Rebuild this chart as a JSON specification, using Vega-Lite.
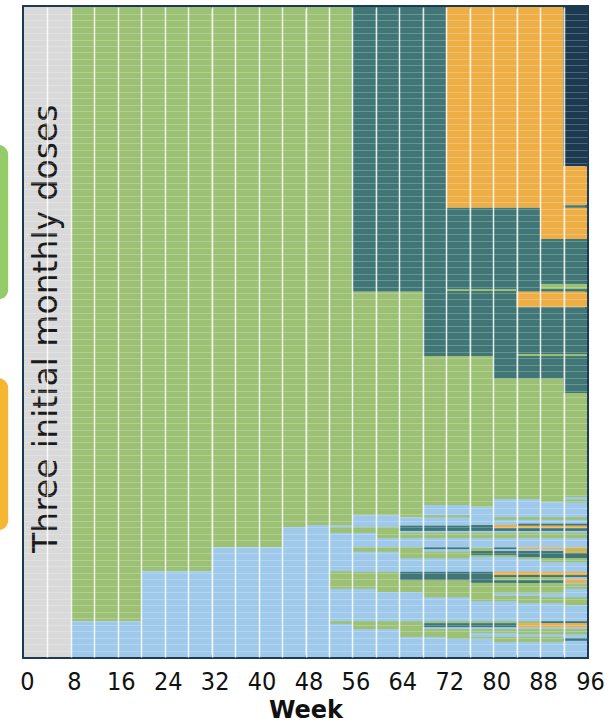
{
  "$schema": "https://vega.github.io/schema/vega-lite/v6.json",
  "width": 563,
  "height": 650,
  "autosize": "none",
  "padding": {"left": 24, "top": 7, "right": 29, "bottom": 71},
  "background": "white",
  "config": {"view": {"stroke": "#1b3a55", "strokeWidth": 4}},
  "datasets": {
    "cells": [
      {"w":0,"w2":8,"y":0,"y2":100,"c":"Loading"},
      {"w":8,"w2":20,"y":5.5,"y2":100,"c":"Q12W"},{"w":8,"w2":20,"y":0,"y2":5.5,"c":"Q8W"},
      {"w":20,"w2":32,"y":13.2,"y2":100,"c":"Q12W"},{"w":20,"w2":32,"y":0,"y2":13.2,"c":"Q8W"},
      {"w":32,"w2":44,"y":16.9,"y2":100,"c":"Q12W"},{"w":32,"w2":44,"y":0,"y2":16.9,"c":"Q8W"},
      {"w":44,"w2":48,"y":20.0,"y2":100,"c":"Q12W"},{"w":44,"w2":48,"y":0,"y2":20.0,"c":"Q8W"},
      {"w":48,"w2":52,"y":20.3,"y2":100,"c":"Q12W"},{"w":48,"w2":52,"y":0,"y2":20.3,"c":"Q8W"},
      {"w":52,"w2":56,"y":20.3,"y2":100,"c":"Q12W"},{"w":52,"w2":56,"y":0,"y2":20.3,"c":"Q8W"},
      {"w":52,"w2":56,"y":19.1,"y2":20.0,"c":"Q12W"},{"w":52,"w2":56,"y":10.5,"y2":13.2,"c":"Q12W"},{"w":52,"w2":56,"y":5.1,"y2":5.5,"c":"Q12W"},

      {"w":56,"w2":60,"y":56.2,"y2":100,"c":"Q16W"},{"w":56,"w2":60,"y":21.8,"y2":56.2,"c":"Q12W"},{"w":56,"w2":60,"y":0,"y2":21.8,"c":"Q8W"},
      {"w":56,"w2":60,"y":19.1,"y2":20.0,"c":"Q12W"},{"w":56,"w2":60,"y":16.2,"y2":16.9,"c":"Q12W"},{"w":56,"w2":60,"y":10.5,"y2":13.1,"c":"Q12W"},{"w":56,"w2":60,"y":4.3,"y2":5.5,"c":"Q12W"},

      {"w":60,"w2":64,"y":56.2,"y2":100,"c":"Q16W"},{"w":60,"w2":64,"y":21.8,"y2":56.2,"c":"Q12W"},{"w":60,"w2":64,"y":0,"y2":21.8,"c":"Q8W"},
      {"w":60,"w2":64,"y":18.3,"y2":20.0,"c":"Q12W"},{"w":60,"w2":64,"y":16.2,"y2":16.9,"c":"Q12W"},{"w":60,"w2":64,"y":10.0,"y2":13.1,"c":"Q12W"},{"w":60,"w2":64,"y":4.3,"y2":5.5,"c":"Q12W"},

      {"w":64,"w2":68,"y":56.2,"y2":100,"c":"Q16W"},{"w":64,"w2":68,"y":21.5,"y2":56.2,"c":"Q12W"},{"w":64,"w2":68,"y":0,"y2":21.5,"c":"Q8W"},
      {"w":64,"w2":68,"y":19.4,"y2":20.2,"c":"Q16W"},{"w":64,"w2":68,"y":18.3,"y2":19.1,"c":"Q12W"},{"w":64,"w2":68,"y":15.2,"y2":16.9,"c":"Q12W"},{"w":64,"w2":68,"y":11.8,"y2":13.1,"c":"Q16W"},{"w":64,"w2":68,"y":10.0,"y2":11.8,"c":"Q12W"},{"w":64,"w2":68,"y":3.1,"y2":5.5,"c":"Q12W"},

      {"w":68,"w2":72,"y":46.3,"y2":100,"c":"Q16W"},{"w":68,"w2":72,"y":23.4,"y2":46.3,"c":"Q12W"},{"w":68,"w2":72,"y":0,"y2":23.4,"c":"Q8W"},
      {"w":68,"w2":72,"y":21.5,"y2":21.8,"c":"Q12W"},{"w":68,"w2":72,"y":19.4,"y2":20.2,"c":"Q16W"},{"w":68,"w2":72,"y":18.3,"y2":19.1,"c":"Q12W"},{"w":68,"w2":72,"y":16.6,"y2":16.9,"c":"Q16W"},{"w":68,"w2":72,"y":15.2,"y2":16.2,"c":"Q12W"},{"w":68,"w2":72,"y":11.8,"y2":13.1,"c":"Q16W"},{"w":68,"w2":72,"y":9.2,"y2":11.8,"c":"Q12W"},{"w":68,"w2":72,"y":5.2,"y2":5.5,"c":"Q12W"},{"w":68,"w2":72,"y":4.6,"y2":5.2,"c":"Q16W"},{"w":68,"w2":72,"y":3.1,"y2":4.3,"c":"Q12W"},

      {"w":72,"w2":76,"y":69.1,"y2":100,"c":"Q20W"},{"w":72,"w2":76,"y":46.3,"y2":69.1,"c":"Q16W"},{"w":72,"w2":76,"y":56.3,"y2":56.6,"c":"Q12W"},{"w":72,"w2":76,"y":23.4,"y2":46.3,"c":"Q12W"},{"w":72,"w2":76,"y":0,"y2":23.4,"c":"Q8W"},
      {"w":72,"w2":76,"y":21.5,"y2":21.8,"c":"Q12W"},{"w":72,"w2":76,"y":19.4,"y2":20.2,"c":"Q16W"},{"w":72,"w2":76,"y":18.3,"y2":19.1,"c":"Q12W"},{"w":72,"w2":76,"y":16.6,"y2":16.9,"c":"Q16W"},{"w":72,"w2":76,"y":15.2,"y2":16.2,"c":"Q12W"},{"w":72,"w2":76,"y":11.8,"y2":13.1,"c":"Q16W"},{"w":72,"w2":76,"y":9.2,"y2":11.8,"c":"Q12W"},{"w":72,"w2":76,"y":5.2,"y2":5.5,"c":"Q12W"},{"w":72,"w2":76,"y":4.6,"y2":5.2,"c":"Q16W"},{"w":72,"w2":76,"y":2.8,"y2":4.3,"c":"Q12W"},

      {"w":76,"w2":80,"y":69.1,"y2":100,"c":"Q20W"},{"w":76,"w2":80,"y":46.3,"y2":69.1,"c":"Q16W"},{"w":76,"w2":80,"y":56.3,"y2":56.6,"c":"Q12W"},{"w":76,"w2":80,"y":23.1,"y2":46.3,"c":"Q12W"},{"w":76,"w2":80,"y":0,"y2":23.1,"c":"Q8W"},
      {"w":76,"w2":80,"y":19.4,"y2":20.3,"c":"Q16W"},{"w":76,"w2":80,"y":18.3,"y2":19.1,"c":"Q12W"},{"w":76,"w2":80,"y":16.3,"y2":16.8,"c":"Q12W"},{"w":76,"w2":80,"y":15.7,"y2":16.3,"c":"Q16W"},{"w":76,"w2":80,"y":15.4,"y2":15.7,"c":"Q12W"},{"w":76,"w2":80,"y":11.4,"y2":13.1,"c":"Q16W"},{"w":76,"w2":80,"y":8.6,"y2":11.4,"c":"Q12W"},{"w":76,"w2":80,"y":5.2,"y2":5.5,"c":"Q12W"},{"w":76,"w2":80,"y":4.6,"y2":5.2,"c":"Q16W"},{"w":76,"w2":80,"y":3.7,"y2":4.3,"c":"Q12W"},{"w":76,"w2":80,"y":2.8,"y2":3.1,"c":"Q12W"},

      {"w":80,"w2":84,"y":69.1,"y2":100,"c":"Q20W"},{"w":80,"w2":84,"y":42.8,"y2":69.1,"c":"Q16W"},{"w":80,"w2":84,"y":56.3,"y2":56.6,"c":"Q12W"},{"w":80,"w2":84,"y":24.3,"y2":42.8,"c":"Q12W"},{"w":80,"w2":84,"y":0,"y2":24.3,"c":"Q8W"},
      {"w":80,"w2":84,"y":21.1,"y2":21.5,"c":"Q12W"},{"w":80,"w2":84,"y":19.8,"y2":20.3,"c":"Q20W"},{"w":80,"w2":84,"y":19.4,"y2":19.8,"c":"Q16W"},{"w":80,"w2":84,"y":18.3,"y2":19.1,"c":"Q12W"},{"w":80,"w2":84,"y":16.6,"y2":16.9,"c":"Q16W"},{"w":80,"w2":84,"y":15.7,"y2":16.3,"c":"Q16W"},{"w":80,"w2":84,"y":15.4,"y2":15.7,"c":"Q12W"},{"w":80,"w2":84,"y":12.6,"y2":13.1,"c":"Q20W"},{"w":80,"w2":84,"y":12.3,"y2":12.6,"c":"Q16W"},{"w":80,"w2":84,"y":11.8,"y2":12.3,"c":"Q12W"},{"w":80,"w2":84,"y":11.4,"y2":11.8,"c":"Q16W"},{"w":80,"w2":84,"y":9.8,"y2":11.4,"c":"Q12W"},{"w":80,"w2":84,"y":8.6,"y2":9.4,"c":"Q12W"},{"w":80,"w2":84,"y":5.2,"y2":5.5,"c":"Q12W"},{"w":80,"w2":84,"y":4.6,"y2":5.2,"c":"Q16W"},{"w":80,"w2":84,"y":3.7,"y2":4.3,"c":"Q12W"},{"w":80,"w2":84,"y":2.3,"y2":3.1,"c":"Q12W"},

      {"w":84,"w2":88,"y":69.1,"y2":100,"c":"Q20W"},{"w":84,"w2":88,"y":56.2,"y2":69.1,"c":"Q16W"},{"w":84,"w2":88,"y":53.8,"y2":56.2,"c":"Q20W"},{"w":84,"w2":88,"y":42.8,"y2":53.8,"c":"Q16W"},{"w":84,"w2":88,"y":46.3,"y2":46.6,"c":"Q12W"},{"w":84,"w2":88,"y":24.3,"y2":42.8,"c":"Q12W"},{"w":84,"w2":88,"y":0,"y2":24.3,"c":"Q8W"},
      {"w":84,"w2":88,"y":21.1,"y2":21.5,"c":"Q12W"},{"w":84,"w2":88,"y":20.2,"y2":20.5,"c":"Q16W"},{"w":84,"w2":88,"y":19.8,"y2":20.2,"c":"Q20W"},{"w":84,"w2":88,"y":19.4,"y2":19.8,"c":"Q16W"},{"w":84,"w2":88,"y":18.3,"y2":19.1,"c":"Q12W"},{"w":84,"w2":88,"y":16.6,"y2":16.9,"c":"Q20W"},{"w":84,"w2":88,"y":15.4,"y2":16.3,"c":"Q16W"},{"w":84,"w2":88,"y":15.1,"y2":15.4,"c":"Q12W"},{"w":84,"w2":88,"y":12.6,"y2":13.1,"c":"Q20W"},{"w":84,"w2":88,"y":12.3,"y2":12.6,"c":"Q16W"},{"w":84,"w2":88,"y":11.8,"y2":12.3,"c":"Q12W"},{"w":84,"w2":88,"y":11.4,"y2":11.8,"c":"Q16W"},{"w":84,"w2":88,"y":9.8,"y2":11.4,"c":"Q12W"},{"w":84,"w2":88,"y":8.3,"y2":9.4,"c":"Q12W"},{"w":84,"w2":88,"y":5.2,"y2":5.5,"c":"Q12W"},{"w":84,"w2":88,"y":4.6,"y2":5.2,"c":"Q20W"},{"w":84,"w2":88,"y":3.5,"y2":4.3,"c":"Q12W"},{"w":84,"w2":88,"y":2.3,"y2":3.1,"c":"Q12W"},

      {"w":88,"w2":92,"y":64.3,"y2":100,"c":"Q20W"},{"w":88,"w2":92,"y":56.2,"y2":64.3,"c":"Q16W"},{"w":88,"w2":92,"y":56.6,"y2":57.4,"c":"Q12W"},{"w":88,"w2":92,"y":53.8,"y2":56.2,"c":"Q20W"},{"w":88,"w2":92,"y":42.8,"y2":53.8,"c":"Q16W"},{"w":88,"w2":92,"y":46.3,"y2":46.6,"c":"Q12W"},{"w":88,"w2":92,"y":23.8,"y2":42.8,"c":"Q12W"},{"w":88,"w2":92,"y":0,"y2":23.8,"c":"Q8W"},
      {"w":88,"w2":92,"y":21.1,"y2":21.5,"c":"Q12W"},{"w":88,"w2":92,"y":20.2,"y2":20.5,"c":"Q16W"},{"w":88,"w2":92,"y":19.8,"y2":20.2,"c":"Q20W"},{"w":88,"w2":92,"y":19.4,"y2":19.8,"c":"Q16W"},{"w":88,"w2":92,"y":18.3,"y2":19.1,"c":"Q12W"},{"w":88,"w2":92,"y":16.6,"y2":16.9,"c":"Q20W"},{"w":88,"w2":92,"y":15.2,"y2":16.3,"c":"Q16W"},{"w":88,"w2":92,"y":14.6,"y2":15.2,"c":"Q12W"},{"w":88,"w2":92,"y":12.6,"y2":13.1,"c":"Q20W"},{"w":88,"w2":92,"y":12.3,"y2":12.6,"c":"Q16W"},{"w":88,"w2":92,"y":11.8,"y2":12.3,"c":"Q12W"},{"w":88,"w2":92,"y":11.4,"y2":11.8,"c":"Q16W"},{"w":88,"w2":92,"y":9.8,"y2":11.4,"c":"Q12W"},{"w":88,"w2":92,"y":8.3,"y2":9.2,"c":"Q12W"},{"w":88,"w2":92,"y":5.2,"y2":5.5,"c":"Q16W"},{"w":88,"w2":92,"y":4.6,"y2":5.2,"c":"Q20W"},{"w":88,"w2":92,"y":3.5,"y2":4.3,"c":"Q12W"},{"w":88,"w2":92,"y":2.3,"y2":3.1,"c":"Q12W"},

      {"w":92,"w2":96,"y":75.5,"y2":100,"c":"Q24W"},{"w":92,"w2":96,"y":69.5,"y2":75.5,"c":"Q20W"},{"w":92,"w2":96,"y":69.1,"y2":69.5,"c":"Q16W"},{"w":92,"w2":96,"y":64.3,"y2":69.1,"c":"Q20W"},{"w":92,"w2":96,"y":56.2,"y2":64.3,"c":"Q16W"},{"w":92,"w2":96,"y":56.6,"y2":57.4,"c":"Q12W"},{"w":92,"w2":96,"y":53.8,"y2":56.2,"c":"Q20W"},{"w":92,"w2":96,"y":40.6,"y2":53.8,"c":"Q16W"},{"w":92,"w2":96,"y":46.3,"y2":46.6,"c":"Q12W"},{"w":92,"w2":96,"y":24.6,"y2":40.6,"c":"Q12W"},{"w":92,"w2":96,"y":0,"y2":24.6,"c":"Q8W"},
      {"w":92,"w2":96,"y":23.8,"y2":24.2,"c":"Q12W"},{"w":92,"w2":96,"y":21.1,"y2":21.5,"c":"Q12W"},{"w":92,"w2":96,"y":20.2,"y2":20.5,"c":"Q16W"},{"w":92,"w2":96,"y":19.8,"y2":20.2,"c":"Q20W"},{"w":92,"w2":96,"y":19.4,"y2":19.8,"c":"Q16W"},{"w":92,"w2":96,"y":18.3,"y2":19.1,"c":"Q12W"},{"w":92,"w2":96,"y":16.6,"y2":16.9,"c":"Q20W"},{"w":92,"w2":96,"y":16.3,"y2":16.6,"c":"Q12W"},{"w":92,"w2":96,"y":16.0,"y2":16.3,"c":"Q20W"},{"w":92,"w2":96,"y":15.2,"y2":16.0,"c":"Q16W"},{"w":92,"w2":96,"y":14.6,"y2":15.2,"c":"Q12W"},{"w":92,"w2":96,"y":12.6,"y2":13.1,"c":"Q20W"},{"w":92,"w2":96,"y":12.3,"y2":12.6,"c":"Q16W"},{"w":92,"w2":96,"y":11.4,"y2":12.0,"c":"Q20W"},{"w":92,"w2":96,"y":10.5,"y2":11.2,"c":"Q12W"},{"w":92,"w2":96,"y":8.0,"y2":9.2,"c":"Q12W"},{"w":92,"w2":96,"y":5.2,"y2":5.5,"c":"Q16W"},{"w":92,"w2":96,"y":4.6,"y2":5.2,"c":"Q20W"},{"w":92,"w2":96,"y":3.5,"y2":4.3,"c":"Q12W"},{"w":92,"w2":96,"y":2.5,"y2":2.9,"c":"Q16W"}
    ],
    "arms": [
      {"w":-12,"w2":-2.7,"y":55.0,"y2":78.8,"c":"HD 8q12"},
      {"w":-12,"w2":-2.7,"y":19.5,"y2":42.9,"c":"HD 8q16"}
    ],
    "notes": [
      {"label": "Three initial monthly doses", "w": 3.9, "v": 50.5}
    ]
  },
  "layer": [
    {
      "data": {"name": "cells"},
      "mark": {"type": "rect"},
      "encoding": {
        "x": {
          "field": "w", "type": "quantitative",
          "scale": {"domain": [0, 96], "nice": false, "zero": false},
          "axis": {
            "values": [0,4,8,12,16,20,24,28,32,36,40,44,48,52,56,60,64,68,72,76,80,84,88,92,96],
            "tickCount": 500,
            "format": "d",
            "labelExpr": "datum.value % 8 == 0 ? datum.label : ''",
            "labelOverlap": false,
            "labelFlush": false,
            "labelOffset": 3,
            "grid": true,
            "gridColor": "#ffffff",
            "gridWidth": 1.5,
            "gridOpacity": {"condition": {"test": "datum.value == 0 || datum.value == 96", "value": 0}, "value": 0.85},
            "ticks": false,
            "domain": false,
            "zindex": 1,
            "labelFont": "DejaVu Sans Condensed, DejaVu Sans",
            "labelFontSize": 25,
            "labelColor": "#111111",
            "labelPadding": 12,
            "title": "Week",
            "titleFont": "DejaVu Sans",
            "titleFontSize": 24,
            "titleFontWeight": "bold",
            "titleColor": "#111111",
            "titlePadding": 4
          }
        },
        "x2": {"field": "w2"},
        "y": {
          "field": "y", "type": "quantitative",
          "scale": {"domain": [0, 100], "nice": false, "zero": false},
          "axis": {
            "values": [1,2,3,4,5,6,7,8,9,10,11,12,13,14,15,16,17,18,19,20,21,22,23,24,25,26,27,28,29,30,31,32,33,34,35,36,37,38,39,40,41,42,43,44,45,46,47,48,49,50,51,52,53,54,55,56,57,58,59,60,61,62,63,64,65,66,67,68,69,70,71,72,73,74,75,76,77,78,79,80,81,82,83,84,85,86,87,88,89,90,91,92,93,94,95,96,97,98,99],
            "tickCount": 500,
            "grid": true,
            "gridColor": "#ffffff",
            "gridOpacity": 0.22,
            "gridWidth": 1,
            "labels": false,
            "ticks": false,
            "domain": false,
            "title": null,
            "zindex": 1
          }
        },
        "y2": {"field": "y2"},
        "color": {
          "field": "c", "type": "nominal",
          "scale": {
            "domain": ["Loading", "Q8W", "Q12W", "Q16W", "Q20W", "Q24W", "HD 8q12", "HD 8q16"],
            "range": ["#d9d9d9", "#9fc9ea", "#9cc175", "#407676", "#eeae46", "#1c3a52", "#95cc6a", "#f6b632"]
          },
          "legend": null
        }
      }
    },
    {
      "data": {"name": "arms"},
      "mark": {"type": "rect", "cornerRadius": 10},
      "encoding": {
        "x": {"field": "w", "type": "quantitative"},
        "x2": {"field": "w2"},
        "y": {"field": "y", "type": "quantitative"},
        "y2": {"field": "y2"},
        "color": {"field": "c", "type": "nominal", "legend": null}
      }
    },
    {
      "data": {"name": "notes"},
      "mark": {"type": "text", "angle": 270, "font": "DejaVu Sans", "fontSize": 33, "color": "#1a1a1a", "align": "center", "baseline": "middle"},
      "encoding": {
        "x": {"field": "w", "type": "quantitative"},
        "y": {"field": "v", "type": "quantitative"},
        "text": {"field": "label"}
      }
    }
  ]
}
